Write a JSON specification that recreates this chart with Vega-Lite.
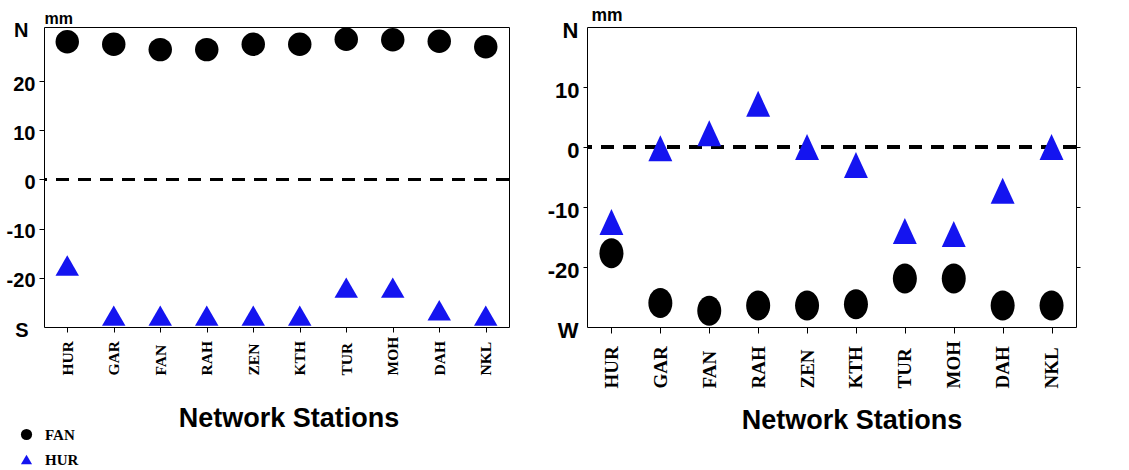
{
  "$schema": "https://vega.github.io/schema/vega-lite/v6.json",
  "padding": {"left": 3, "top": 5, "right": 5, "bottom": 5},
  "background": "white",
  "spacing": 33,
  "config": {
    "view": {"stroke": "black", "strokeWidth": 1},
    "axis": {"grid": false, "domain": false, "tickColor": "black", "labelColor": "black", "titleColor": "black", "tickWidth": 1}
  },
  "datasets": {
    "left": [
      {"station": "HUR", "series": "FAN", "value": 28.0},
      {"station": "GAR", "series": "FAN", "value": 27.5},
      {"station": "FAN", "series": "FAN", "value": 26.4},
      {"station": "RAH", "series": "FAN", "value": 26.4},
      {"station": "ZEN", "series": "FAN", "value": 27.5},
      {"station": "KTH", "series": "FAN", "value": 27.5},
      {"station": "TUR", "series": "FAN", "value": 28.5},
      {"station": "MOH", "series": "FAN", "value": 28.4},
      {"station": "DAH", "series": "FAN", "value": 28.1},
      {"station": "NKL", "series": "FAN", "value": 27.0},
      {"station": "HUR", "series": "HUR", "value": -17.5},
      {"station": "GAR", "series": "HUR", "value": -27.7},
      {"station": "FAN", "series": "HUR", "value": -27.7},
      {"station": "RAH", "series": "HUR", "value": -27.7},
      {"station": "ZEN", "series": "HUR", "value": -27.7},
      {"station": "KTH", "series": "HUR", "value": -27.7},
      {"station": "TUR", "series": "HUR", "value": -22.0},
      {"station": "MOH", "series": "HUR", "value": -22.0},
      {"station": "DAH", "series": "HUR", "value": -26.6},
      {"station": "NKL", "series": "HUR", "value": -27.7}
    ],
    "right": [
      {"station": "HUR", "series": "FAN", "value": -17.7},
      {"station": "GAR", "series": "FAN", "value": -26.0},
      {"station": "FAN", "series": "FAN", "value": -27.3},
      {"station": "RAH", "series": "FAN", "value": -26.4},
      {"station": "ZEN", "series": "FAN", "value": -26.4},
      {"station": "KTH", "series": "FAN", "value": -26.2},
      {"station": "TUR", "series": "FAN", "value": -21.9},
      {"station": "MOH", "series": "FAN", "value": -21.9},
      {"station": "DAH", "series": "FAN", "value": -26.4},
      {"station": "NKL", "series": "FAN", "value": -26.4},
      {"station": "HUR", "series": "HUR", "value": -12.5},
      {"station": "GAR", "series": "HUR", "value": -0.2},
      {"station": "FAN", "series": "HUR", "value": 2.3},
      {"station": "RAH", "series": "HUR", "value": 7.2},
      {"station": "ZEN", "series": "HUR", "value": 0.0},
      {"station": "KTH", "series": "HUR", "value": -3.0},
      {"station": "TUR", "series": "HUR", "value": -14.0},
      {"station": "MOH", "series": "HUR", "value": -14.5},
      {"station": "DAH", "series": "HUR", "value": -7.3},
      {"station": "NKL", "series": "HUR", "value": 0.0}
    ]
  },
  "hconcat": [
    {
      "width": 465,
      "height": 300,
      "data": {"name": "left"},
      "layer": [
        {
          "mark": {"type": "rule", "strokeDash": [13, 9], "strokeWidth": 2.5, "color": "black"},
          "encoding": {"y": {"datum": 0, "type": "quantitative"}}
        },
        {
          "mark": {"type": "point", "filled": true, "opacity": 1, "size": 550},
          "encoding": {
            "x": {
              "field": "station", "type": "nominal", "sort": null,
              "scale": {"type": "point", "padding": 0.5},
              "axis": {
                "title": "Network Stations", "titleFont": "Liberation Sans", "titleFontWeight": "bold", "titleFontSize": 27,
                "titleX": 244.5, "titleY": 99, "titleAlign": "center", "titleBaseline": "alphabetic",
                "labelAngle": -90, "labelAlign": "left", "labelBaseline": "middle", "labelPadding": 43, "tickSize": 5,
                "labelFont": "Liberation Serif", "labelFontWeight": "bold", "labelFontSize": 15.5
              }
            },
            "y": {
              "field": "value", "type": "quantitative",
              "scale": {"domain": [-30, 31], "nice": false, "zero": false},
              "axis": {
                "values": [-30, -20, -10, 0, 10, 20, 31],
                "labelExpr": "datum.value == 31 ? 'N' : datum.value == -30 ? 'S' : '' + datum.value",
                "labelFont": "Liberation Sans", "labelFontWeight": "bold", "labelFontSize": 20,
                "labelPadding": {"condition": {"test": "datum.value == 31 || datum.value == -30", "value": 16}, "value": 4},
                "tickSize": {"condition": {"test": "datum.value == 31 || datum.value == -30", "value": 0}, "value": 5},
                "labelOffset": 3,
                "labelOverlap": false,
                "minExtent": 40,
                "title": "mm", "titleAngle": 0, "titleAlign": "left", "titleBaseline": "alphabetic",
                "titleX": 0, "titleY": -4, "titleFont": "Liberation Sans", "titleFontWeight": "bold", "titleFontSize": 16
              }
            },
            "shape": {
              "field": "series", "type": "nominal",
              "scale": {"domain": ["FAN", "HUR"], "range": ["circle", "triangle-up"]},
              "legend": {
                "title": null, "orient": "none", "legendX": -25, "legendY": 400,
                "labelFont": "Liberation Serif", "labelFontWeight": "bold", "labelFontSize": 15,
                "symbolSize": 125, "rowPadding": 9, "labelOffset": 11
              }
            },
            "color": {
              "field": "series", "type": "nominal",
              "scale": {"domain": ["FAN", "HUR"], "range": ["black", "#1414f0"]},
              "legend": {
                "title": null, "orient": "none", "legendX": -25, "legendY": 400,
                "labelFont": "Liberation Serif", "labelFontWeight": "bold", "labelFontSize": 15,
                "symbolSize": 125, "rowPadding": 9, "labelOffset": 11
              }
            }
          }
        }
      ]
    },
    {
      "width": 489,
      "height": 300,
      "data": {"name": "right"},
      "resolve": {"axis": {"y": "independent"}},
      "layer": [
        {
          "mark": {"type": "rule", "strokeDash": [13, 9], "strokeWidth": 2.5, "color": "black"},
          "encoding": {"y": {"datum": 0, "type": "quantitative", "axis": null}}
        },
        {
          "transform": [{"filter": "datum.series == 'FAN'"}],
          "mark": {"type": "point", "filled": true, "opacity": 1, "size": 900, "color": "black",
                   "shape": "M-0.8,0A0.8,1,0,1,1,0.8,0A0.8,1,0,1,1,-0.8,0Z"},
          "encoding": {
            "x": {
              "field": "station", "type": "nominal", "sort": null,
              "scale": {"type": "point", "padding": 0.5},
              "axis": {
                "title": "Network Stations", "titleFont": "Liberation Sans", "titleFontWeight": "bold", "titleFontSize": 27,
                "titleX": 264.5, "titleY": 101, "titleAlign": "center", "titleBaseline": "alphabetic",
                "labelAngle": -90, "labelAlign": "left", "labelBaseline": "middle", "labelPadding": 55, "tickSize": 6,
                "labelFont": "Liberation Serif", "labelFontWeight": "bold", "labelFontSize": 19
              }
            },
            "y": {
              "field": "value", "type": "quantitative",
              "scale": {"domain": [-30, 20], "nice": false, "zero": false},
              "axis": {
                "orient": "left",
                "values": [-30, -20, -10, 0, 10, 20],
                "labelExpr": "datum.value == 20 ? 'N' : datum.value == -30 ? 'W' : '' + datum.value",
                "labelFont": "Liberation Sans", "labelFontWeight": "bold", "labelFontSize": 22,
                "labelPadding": {"condition": {"test": "datum.value == 20 || datum.value == -30", "value": 9}, "value": 4},
                "tickSize": {"condition": {"test": "datum.value == 20 || datum.value == -30", "value": 0}, "value": 4},
                "labelOffset": 3,
                "labelOverlap": false,
                "minExtent": 42,
                "title": "mm", "titleAngle": 0, "titleAlign": "left", "titleBaseline": "alphabetic",
                "titleX": 4, "titleY": -7, "titleFont": "Liberation Sans", "titleFontWeight": "bold", "titleFontSize": 17.5
              }
            }
          }
        },
        {
          "transform": [{"filter": "datum.series == 'HUR'"}],
          "mark": {"type": "point", "filled": true, "opacity": 1, "size": 676, "color": "#1414f0",
                   "shape": "M0,-1L-0.92,1L0.92,1Z"},
          "encoding": {
            "x": {
              "field": "station", "type": "nominal", "sort": null,
              "scale": {"type": "point", "padding": 0.5},
              "axis": {
                "title": "Network Stations", "titleFont": "Liberation Sans", "titleFontWeight": "bold", "titleFontSize": 27,
                "titleX": 264.5, "titleY": 101, "titleAlign": "center", "titleBaseline": "alphabetic",
                "labelAngle": -90, "labelAlign": "left", "labelBaseline": "middle", "labelPadding": 55, "tickSize": 6,
                "labelFont": "Liberation Serif", "labelFontWeight": "bold", "labelFontSize": 19
              }
            },
            "y": {
              "field": "value", "type": "quantitative",
              "scale": {"domain": [-30, 20], "nice": false, "zero": false},
              "axis": {
                "orient": "right", "values": [-20, -10, 0, 10], "labels": false, "tickSize": 4, "title": null
              }
            }
          }
        }
      ]
    }
  ]
}
